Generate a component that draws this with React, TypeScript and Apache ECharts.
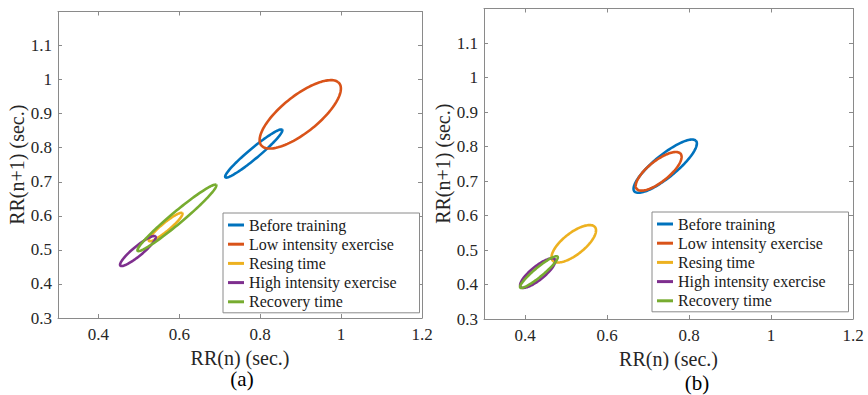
import React, { useEffect, useRef } from "react";
import * as echarts from "echarts";

const seriesNames = [
  "Before training",
  "Low intensity exercise",
  "Resing time",
  "High intensity exercise",
  "Recovery time",
];
const seriesColors = ["#0072BD", "#D95319", "#EDB120", "#7E2F8E", "#77AC30"];

// Poincaré ellipse parameters: centre (mean RR), SD2 (semi-axis along identity line), SD1 (perpendicular)
const aCenterX = [0.784, 0.899, 0.566, 0.4975, 0.594];
const aCenterY = [0.783, 0.898, 0.567, 0.4966, 0.594];
const aSD2 = [0.099, 0.133, 0.058, 0.061, 0.137];
const aSD1 = [0.014, 0.05, 0.011, 0.013, 0.016];

const bCenterX = [0.742, 0.726, 0.519, 0.431, 0.434];
const bCenterY = [0.743, 0.728, 0.518, 0.433, 0.436];
const bSD2 = [0.105, 0.074, 0.071, 0.058, 0.064];
const bSD1 = [0.03, 0.028, 0.029, 0.018, 0.012];

const xTicks = [0.4, 0.6, 0.8, 1.0, 1.2];
const yTicks = [0.3, 0.4, 0.5, 0.6, 0.7, 0.8, 0.9, 1.0, 1.1];
const axisMin = 0.3;
const axisMax = 1.2;
const panelCaptions = ["(a)", "(b)"];

const FONT = "'Liberation Serif', 'Times New Roman', serif";
const TEXT = "#262626";
const FRAME = "#8a8a8a";

const fmt = (v: number) => String(parseFloat(Number(v).toFixed(2)));

function ellipseRender(color: string) {
  return (params: any, api: any) => {
    const cx = api.value(0);
    const cy = api.value(1);
    const a = api.value(2);
    const b = api.value(3);
    const pts: number[][] = [];
    const N = 120;
    for (let i = 0; i <= N; i++) {
      const t = (2 * Math.PI * i) / N;
      const u = a * Math.cos(t);
      const v = b * Math.sin(t);
      const x = cx + (u - v) / Math.SQRT2;
      const y = cy + (u + v) / Math.SQRT2;
      pts.push(api.coord([x, y]));
    }
    return {
      type: "polyline",
      shape: { points: pts },
      style: { fill: "none", stroke: color, lineWidth: 2.6 },
    };
  };
}

export default function App() {
  const ref = useRef<HTMLDivElement>(null);
  useEffect(() => {
    document.body.style.margin = "0";
    const chart = echarts.init(ref.current!, null, { renderer: "svg" });

    const grids = [
      { left: 58, top: 11.5, width: 364, height: 306.5 },
      { left: 484, top: 8.5, width: 369, height: 310.5 },
    ];

    const xAxes: any[] = [];
    const yAxes: any[] = [];
    grids.forEach((_, gi) => {
      xAxes.push({
        type: "value",
        gridIndex: gi,
        position: "bottom",
        min: axisMin,
        max: axisMax,
        name: "RR(n) (sec.)",
        nameLocation: "middle",
        nameGap: 29,
        nameTextStyle: { fontFamily: FONT, fontSize: 20, color: TEXT },
        axisLine: { show: true, onZero: false, lineStyle: { color: FRAME, width: 1 } },
        axisTick: { show: true, inside: true, length: 4, customValues: xTicks, lineStyle: { color: FRAME } },
        axisLabel: { customValues: xTicks, formatter: fmt, fontFamily: FONT, fontSize: 17, color: TEXT, margin: 8 },
        splitLine: { show: false },
      });
      xAxes.push({
        type: "value",
        gridIndex: gi,
        position: "top",
        min: axisMin,
        max: axisMax,
        axisLine: { show: true, onZero: false, lineStyle: { color: FRAME, width: 1 } },
        axisTick: { show: true, inside: true, length: 4, customValues: xTicks, lineStyle: { color: FRAME } },
        axisLabel: { show: false },
        splitLine: { show: false },
      });
      yAxes.push({
        type: "value",
        gridIndex: gi,
        position: "left",
        min: axisMin,
        max: axisMax,
        name: "RR(n+1) (sec.)",
        nameLocation: "middle",
        nameGap: 30,
        nameTextStyle: { fontFamily: FONT, fontSize: 20, color: TEXT },
        axisLine: { show: true, onZero: false, lineStyle: { color: FRAME, width: 1 } },
        axisTick: { show: true, inside: true, length: 4, customValues: yTicks, lineStyle: { color: FRAME } },
        axisLabel: { customValues: yTicks, formatter: fmt, fontFamily: FONT, fontSize: 17, color: TEXT, margin: 6 },
        splitLine: { show: false },
      });
      yAxes.push({
        type: "value",
        gridIndex: gi,
        position: "right",
        min: axisMin,
        max: axisMax,
        axisLine: { show: true, onZero: false, lineStyle: { color: FRAME, width: 1 } },
        axisTick: { show: true, inside: true, length: 4, customValues: yTicks, lineStyle: { color: FRAME } },
        axisLabel: { show: false },
        splitLine: { show: false },
      });
    });

    const panels = [
      { cx: aCenterX, cy: aCenterY, sd2: aSD2, sd1: aSD1 },
      { cx: bCenterX, cy: bCenterY, sd2: bSD2, sd1: bSD1 },
    ];
    const series: any[] = [];
    panels.forEach((p, gi) => {
      seriesNames.forEach((name, i) => {
        series.push({
          type: "custom",
          name,
          xAxisIndex: gi * 2,
          yAxisIndex: gi * 2,
          itemStyle: { color: seriesColors[i] },
          renderItem: ellipseRender(seriesColors[i]),
          encode: { x: 0, y: 1 },
          data: [[p.cx[i], p.cy[i], p.sd2[i], p.sd1[i]]],
          silent: true,
        });
      });
    });

    const legendBase = {
      orient: "vertical",
      data: seriesNames,
      icon: "rect",
      itemWidth: 16,
      itemHeight: 3,
      itemGap: 3.2,
      selectedMode: false,
      borderColor: FRAME,
      borderWidth: 1,
      borderRadius: 0,
      padding: [4, 23, 3, 5],
      backgroundColor: "#fff",
      textStyle: { fontFamily: FONT, fontSize: 16, color: "#1a1a1a", lineHeight: 16 },
    };

    chart.setOption({
      animation: false,
      backgroundColor: "#fff",
      grid: grids,
      xAxis: xAxes,
      yAxis: yAxes,
      legend: [
        { ...legendBase, left: 223, top: 213 },
        { ...legendBase, left: 652, top: 212 },
      ],
      series,
      graphic: [
        {
          type: "text",
          x: 242,
          y: 368,
          style: { text: panelCaptions[0], fontFamily: FONT, fontSize: 21, fill: "#000", align: "center" },
        },
        {
          type: "text",
          x: 697,
          y: 372,
          style: { text: panelCaptions[1], fontFamily: FONT, fontSize: 21, fill: "#000", align: "center" },
        },
      ],
    });
    return () => chart.dispose();
  }, []);
  return <div ref={ref} style={{ width: 868, height: 395 }} />;
}
